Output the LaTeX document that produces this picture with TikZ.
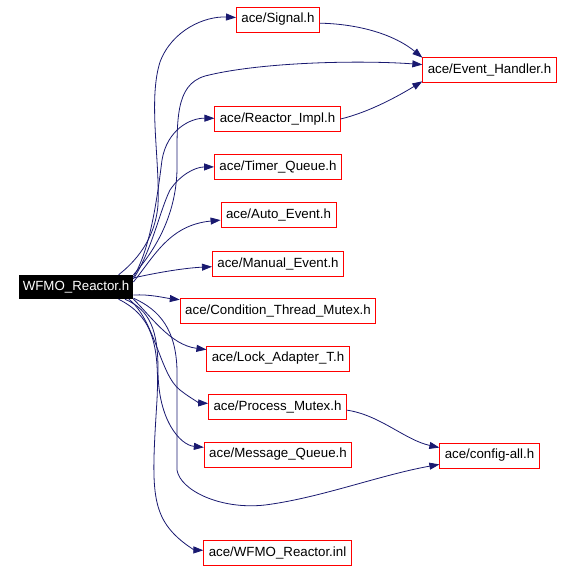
\documentclass[tikz,border=0pt]{standalone}
\usepackage{fontspec}
\setmainfont{Liberation Sans}
\usetikzlibrary{arrows.meta, calc}
\definecolor{edgeblue}{HTML}{191970}

\begin{document}
\begin{tikzpicture}[
  x=1pt, y=-1pt,
  hdr/.style={draw=red, fill=white, thick, font=\fontsize{13.3}{16}\selectfont,
    inner xsep=5pt, inner ysep=0pt, minimum height=25pt},
  root/.style={fill=black, text=white, font=\fontsize{13.3}{16}\selectfont,
    inner xsep=4pt, inner ysep=0pt, minimum height=24pt},
  dep/.style={draw=edgeblue, line width=0.8pt,
    -{Triangle[length=10pt, width=7pt]}}
]
  \useasboundingbox (0,0) rectangle (574,571);

  % the file itself
  \node[root] (wfmo) at (76,287) {WFMO\_Reactor.h};

  % included headers
  \node[hdr] (signal) at (278,19.5) {ace/Signal.h};
  \node[hdr] (eh)     at (489.5,69.5) {ace/Event\_Handler.h};
  \node[hdr] (impl)   at (277.5,119) {ace/Reactor\_Impl.h};
  \node[hdr] (timer)  at (278,166.5) {ace/Timer\_Queue.h};
  \node[hdr] (auto)   at (278.5,214.5) {ace/Auto\_Event.h};
  \node[hdr] (manual) at (278,263.5) {ace/Manual\_Event.h};
  \node[hdr] (cond)   at (278,310.5) {ace/Condition\_Thread\_Mutex.h};
  \node[hdr] (lock)   at (278,358.5) {ace/Lock\_Adapter\_T.h};
  \node[hdr] (proc)   at (277.5,406.5) {ace/Process\_Mutex.h};
  \node[hdr] (msgq)   at (278,454.5) {ace/Message\_Queue.h};
  \node[hdr] (cfg)    at (489.5,455.5) {ace/config-all.h};
  \node[hdr] (inl)    at (277.5,553) {ace/WFMO\_Reactor.inl};

  % upper fan
  \draw[dep] (wfmo.16) .. controls (135,262) and (155,240) .. (158,205)
    .. controls (160,160) and (148,100) .. (160,62)
    .. controls (172,30) and (205,16) .. (signal);
  \draw[dep] (wfmo.north east) .. controls (160,245) and (176,210) .. (177,170)
    .. controls (177,120) and (175,85) .. (205,76)
    .. controls (260,62) and (360,60) .. (eh);
  \draw[dep] (wfmo.10) .. controls (150,250) and (157,200) .. (162,160)
    .. controls (167,130) and (190,118) .. (impl);
  \draw[dep] (wfmo.8) .. controls (152,250) and (160,210) .. (170,190)
    .. controls (180,175) and (195,167) .. (timer);
  \draw[dep] (wfmo.5) .. controls (155,255) and (170,225) .. (auto);
  \draw[dep] (wfmo.9) .. controls (160,272) and (185,268) .. (manual);

  % lower fan
  \draw[dep] (wfmo.-8) .. controls (150,294) and (165,298) .. (cond);
  \draw[dep] (wfmo.-12) .. controls (150,315) and (170,345) .. (lock);
  \draw[dep] (wfmo.-13) .. controls (155,320) and (160,375) .. (180,390)
    .. controls (190,398) and (200,403) .. (proc);
  \draw[dep] (wfmo.-14) .. controls (150,310) and (158,330) .. (158,370)
    .. controls (158,420) and (180,445) .. (msgq);
  \draw[dep] (wfmo.-11) .. controls (160,310) and (176,330) .. (177,370)
    -- (177,470) .. controls (180,490) and (220,510) .. (265,505)
    .. controls (320,498) and (380,475) .. (cfg);
  \draw[dep] (wfmo.-16) .. controls (150,315) and (160,340) .. (157,400)
    .. controls (152,480) and (150,510) .. (175,535)
    .. controls (185,545) and (195,550) .. (inl);

  % second level
  \draw[dep] (signal.-5) .. controls (360,24) and (395,35) .. (eh.170);
  \draw[dep] (impl.east) .. controls (370,112) and (400,95) .. (eh.-170);
  \draw[dep] (proc.-3) .. controls (380,415) and (405,440) .. (cfg.171);
\end{tikzpicture}
\end{document}
